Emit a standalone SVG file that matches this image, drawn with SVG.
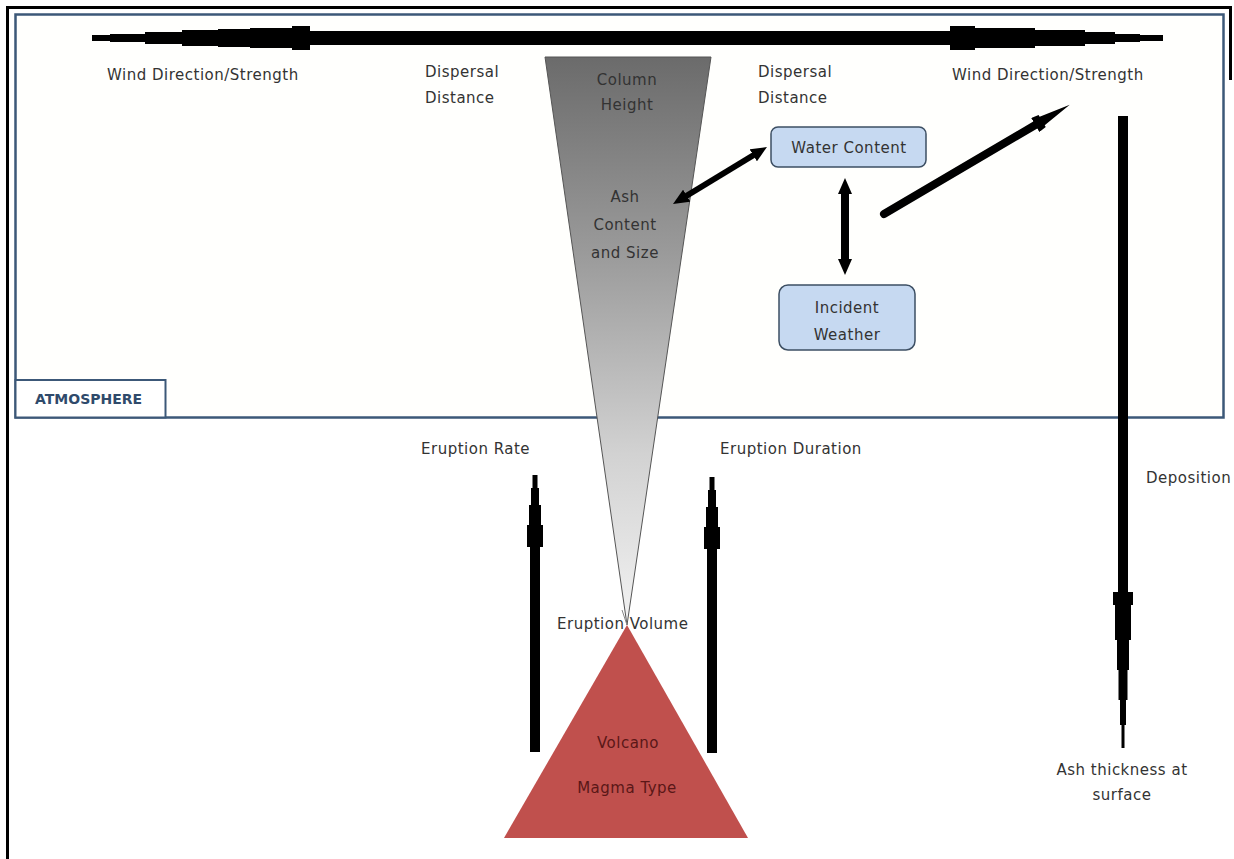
<svg xmlns="http://www.w3.org/2000/svg" width="1234" height="859" viewBox="0 0 1234 859">
<defs>
<style>
.t{font-family:"DejaVu Sans","Liberation Sans",sans-serif;font-size:15px;letter-spacing:0.5px;fill:#333}
.c{text-anchor:middle}
.atm{font-family:"DejaVu Sans","Liberation Sans",sans-serif;font-size:14px;font-weight:bold;fill:#2f4a6b}
.box{fill:#c6d9f1;stroke:#3d4f63;stroke-width:1.5}
.blk{fill:#000}
.ln{stroke:#000;fill:none}
.vt{font-family:"DejaVu Sans","Liberation Sans",sans-serif;font-size:15px;letter-spacing:0.5px;fill:#5a1717;text-anchor:middle}
</style>
<linearGradient id="plumeGrad" x1="0" y1="57" x2="0" y2="625" gradientUnits="userSpaceOnUse">
<stop offset="0" stop-color="#6b6b6b"/>
<stop offset="0.35" stop-color="#9b9b9b"/>
<stop offset="0.7" stop-color="#d2d2d2"/>
<stop offset="1" stop-color="#f2f2f2"/>
</linearGradient>
<marker id="ah" viewBox="0 0 16 14" refX="2" refY="7" markerWidth="16" markerHeight="14" markerUnits="userSpaceOnUse" orient="auto-start-reverse">
<path d="M0,0 L16,7 L0,14 z" fill="#000"/>
</marker>
<marker id="ahLong" viewBox="0 0 40 16" refX="2" refY="8" markerWidth="40" markerHeight="16" markerUnits="userSpaceOnUse" orient="auto">
<path d="M0,0 L8,1 L8,3 L40,8 L8,13 L8,15 L0,16 z" fill="#000"/>
</marker>
</defs>

<rect width="1234" height="859" fill="#fff"/>
<path d="M7.5,865 V7.5 H1230.5 V80" fill="none" stroke="#000" stroke-width="3"/>

<g id="atmosphere">
<rect x="15.5" y="14.5" width="1208" height="403" fill="#fffffd" stroke="#3c5878" stroke-width="2.5"/>
<rect x="15.5" y="380" width="150" height="37.5" fill="#fff" stroke="#3c5878" stroke-width="2"/>
<text class="atm" x="35" y="404">ATMOSPHERE</text>
</g>

<g id="plume">
<polygon points="545,57 711,57 627,625" fill="url(#plumeGrad)" stroke="#555" stroke-width="1"/>
<text class="t c" x="627" y="85">Column</text>
<text class="t c" x="627" y="110">Height</text>
<text class="t c" x="625" y="202">Ash</text>
<text class="t c" x="625" y="230">Content</text>
<text class="t c" x="625" y="258">and Size</text>
</g>

<g id="volcano">
<text class="t" x="557" y="629">Eruption Volume</text>
<polygon points="627,625 748,838 504,838" fill="#c0504d"/>
<line x1="622" y1="610" x2="627" y2="625" stroke="#888" stroke-width="1"/>
<text class="vt" x="628" y="748">Volcano</text>
<text class="vt" x="627" y="793">Magma Type</text>
</g>

<g id="water-content">
<rect class="box" x="771" y="127" width="155" height="40" rx="7"/>
<text class="t c" x="849" y="153">Water Content</text>
</g>

<g id="incident-weather">
<rect class="box" x="779" y="285" width="136" height="65" rx="9"/>
<text class="t c" x="847" y="313">Incident</text>
<text class="t c" x="847" y="340">Weather</text>
</g>

<g id="labels">
<text class="t" x="107" y="80">Wind Direction/Strength</text>
<text class="t" x="952" y="80">Wind Direction/Strength</text>
<text class="t" x="425" y="77">Dispersal</text>
<text class="t" x="425" y="103">Distance</text>
<text class="t" x="758" y="77">Dispersal</text>
<text class="t" x="758" y="103">Distance</text>
<text class="t" x="421" y="454">Eruption Rate</text>
<text class="t" x="720" y="454">Eruption Duration</text>
<text class="t" x="1146" y="483">Deposition</text>
<text class="t c" x="1122" y="775">Ash thickness at</text>
<text class="t c" x="1122" y="800">surface</text>
</g>

<g id="connectors">
<polygon class="blk" points="92,35 110,35 110,34 145,34 145,32 182,32 182,30 218,30 218,29 250,29 250,28 292,28 292,26 310,26 310,31 950,31 950,26 975,26 975,28 1035,28 1035,30 1085,30 1085,32 1115,32 1115,34 1140,34 1140,35 1163,35 1163,41 1140,41 1140,42 1115,42 1115,44 1085,44 1085,46 1035,46 1035,48 975,48 975,50 950,50 950,45 310,45 310,50 292,50 292,48 250,48 250,47 218,47 218,46 182,46 182,44 145,44 145,42 110,42 110,41 92,41"/>
<polygon class="blk" points="1118,116 1128,116 1128,592 1133,592 1133,605 1131,605 1131,640 1129,640 1129,670 1127.5,670 1127.5,700 1126,700 1126,725 1124.5,725 1124.5,748 1121.5,748 1121.5,725 1120,725 1120,700 1118.5,700 1118.5,670 1117,670 1117,640 1115,640 1115,605 1113,605 1113,592 1118,592"/>
<polygon class="blk" points="530,752 540,752 540,547 543,547 543,525 541,525 541,505 539,505 539,488 537.5,488 537.5,475 532.5,475 532.5,488 531,488 531,505 529,505 529,525 527,525 527,547 530,547"/>
<polygon class="blk" points="707,753 717,753 717,549 720,549 720,527 718,527 718,507 716,507 716,490 714.5,490 714.5,477 709.5,477 709.5,490 708,490 708,507 706,507 706,527 704,527 704,549 707,549"/>
<path class="ln" d="M685,196.7 L755,154.3" stroke-width="6" marker-start="url(#ah)" marker-end="url(#ah)"/>
<path class="ln" d="M845,192 L845,261" stroke-width="8" marker-start="url(#ah)" marker-end="url(#ah)"/>
<path class="ln" d="M884,214 L1037,124" stroke-width="8" stroke-linecap="round" marker-end="url(#ahLong)"/>
</g>
</svg>
